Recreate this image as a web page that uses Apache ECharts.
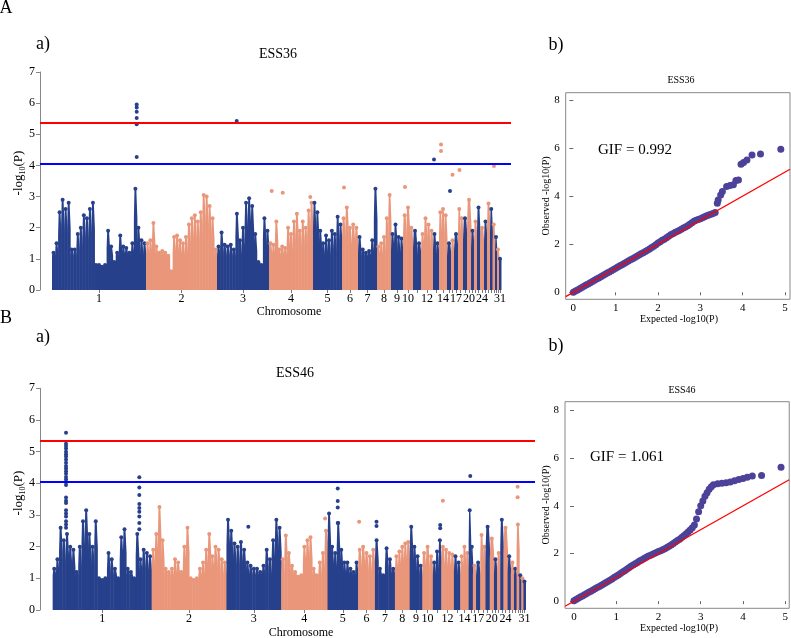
<!DOCTYPE html>
<html><head><meta charset="utf-8">
<script src="https://cdn.jsdelivr.net/npm/echarts@6/dist/echarts.min.js"></script>
<style>html,body{margin:0;padding:0;background:#fff;}#c{width:791px;height:638px;}</style>
</head><body><div id="c"></div>
<script>
// ---------------- data ----------------
const chromLabels = ['1','2','3','4','5','6','7','8','9','10','11','12','13','14','15','16','17','18','19','20','21','22','23','24','25','26','27','28','29','30','31'];
const shownLabels = ['1','2','3','4','5','6','7','8','9','10','12','14','17','20','24','31'];
// relative chromosome widths on the plotted position axis
const chromSizes = [94,71,52,44,29,16,19,14,12,10,8,12,6,8,4,3,4,5,4,4,3,3,3,4,3,3,2.5,2.5,2,2,2];
const genomeStart = 12;

// ESS36: upper envelope of -log10(P) within each chromosome (equal sub-bins)
const envA = [
  [1.2,1.5,2.5,2.9,2.6,2.8,1.3,1.3,1.8,2.0,2.4,2.3,2.6,2.8,0.8,0.8,0.75,0.8,1.9,1.4,0.9,1.2,1.75,1.4,1.35,1.2,1.5,3.25,2.0,1.6,1.5],
  [1.5,1.6,2.15,1.4,1.2,1.25,1.2,1.1,0.6,1.7,1.75,1.6,1.5,1.7,2.1,2.3,2.4,2.2,2.5,3.05,3.0,2.7,2.3,1.3],
  [1.4,1.85,1.45,1.4,1.45,1.3,2.45,1.6,2.0,2.8,2.95,2.7,1.8,0.9,0.8,2.3,1.9],
  [1.5,1.45,2.2,1.3,1.4,1.35,2.0,1.8,2.2,2.45,1.9,2.2,2.0,2.55,2.8],
  [2.8,2.5,1.9,1.5,1.75,1.6,1.9,1.8,2.35,2.1],
  [2.3,2.65,2.0,2.1,2.0],
  [1.7,1.3,1.2,1.25,1.6,3.25],
  [1.4,1.5,1.7,2.3,3.05],
  [1.8,2.1,1.7,1.65],
  [2.4,2.65,2.0],
  [1.9,1.5],
  [1.8,2.3,2.1,1.9],
  [1.8,1.5],
  [2.5,2.6,2.4],
  [1.5],[1.6],[1.8],[2.6,2.3],[2.3],[2.9],[1.9],[2.2],[2.65],[2.0],[2.2],[2.78],[2.6],[2.1],[1.7],[1.3],[1.0]
];
// ESS36: isolated markers [position, -log10(P)]
const hitsA = [
  [96.7,5.96],[96.7,5.86],[96.7,5.72],[96.7,5.52],[96.7,5.32],[96.7,4.27],
  [196.7,5.43],[231.7,3.18],[242.7,3.12],[270.3,2.99],[304,3.29],[365,3.31],
  [394,4.19],[401,4.67],[401,4.46],[410,3.18],[412.5,3.7],[419.5,3.85],[454,3.98]
];

// ESS46
const envB = [
  [1.3,1.6,2.6,2.2,2.4,2.0,1.9,1.2,2.0,2.8,3.15,2.4,2.0,2.8,1.0,0.95,1.0,1.8,1.6,1.3,1.0,2.3,2.55,1.3,1.2,1.0,2.4,1.6,1.9,1.8,1.7],
  [1.9,2.4,3.25,2.2,1.3,1.2,1.3,1.6,1.5,1.2,2.0,2.6,1.0,0.95,1.0,1.3,1.5,1.9,2.4,1.7,2.0,1.9,1.6,1.5],
  [2.85,2.5,2.1,2.0,2.15,1.9,1.5,1.4,1.3,1.3,1.2,1.4,1.9,1.6,2.2,2.85,2.6],
  [1.6,2.35,1.8,1.4,1.2,1.05,1.1,2.0,2.2,2.3,1.3,1.1,1.5,1.8,2.5],
  [3.05,2.0,1.8,2.75,1.9,1.5,1.5,1.3,1.2,1.5],
  [1.9,2.0,1.8,1.7,1.9],
  [2.2,1.3,1.1,1.95,1.6,1.3],
  [1.7,1.85,2.0,2.1,2.15],
  [2.63,2.0,1.7,1.4],
  [1.8,2.0,1.7],
  [1.5,1.85,2.2],
  [2.0,1.9,1.8,1.75],
  [1.7,1.5],
  [1.7,2.0,1.8],
  [3.15,2.0],[1.4],[1.5],[2.37,2.0],[2.63],[2.26],[1.6],[1.8],[2.85],[2.6],[1.7],[1.5],[1.3],[2.7],[1.1],[1.0],[0.9]
];
const hitsB = [
  [24.7,5.6],[24.7,5.25],[24.7,5.18],[24.7,5.1],[24.7,5.0],[24.7,4.92],[24.7,4.85],[24.7,4.75],[24.7,4.65],
  [24.7,4.55],[24.7,4.47],[24.7,4.38],[24.7,4.3],[24.7,4.2],[24.7,4.12],[24.7,4.03],[24.7,3.95],[24.7,3.55],
  [24.7,3.45],[24.7,3.38],[24.7,3.15],[24.7,3.05],[24.7,2.95],[24.7,2.8],[24.7,2.7],[24.7,2.6],
  [94.3,4.19],[94.3,3.87],[94.3,3.63],[94.3,3.35],[94.3,3.22],[94.3,3.1],[94.3,2.95],[94.3,2.75],[94.3,2.55],
  [197.8,2.63],[270.7,2.89],[282.7,3.84],[282.7,3.44],[282.7,3.24],[282.7,2.75],[303,2.79],
  [319.5,2.79],[319.5,2.65],[380,2.68],[380,2.58],[382.5,3.45],[408.5,4.23],[453.5,3.89],[453.5,3.56]
];
const redLineA = 5.36, blueLineA = 4.06;
const redLineB = 5.35, blueLineB = 4.04;

// QQ plots: expected vs observed -log10(P)
const qqExpA = [0,0.05,0.1,0.15,0.2,0.25,0.3,0.35,0.4,0.45,0.5,0.55,0.6,0.65,0.7,0.75,0.8,0.85,0.9,0.95,1.0,1.05,1.1,1.15,1.2,1.25,1.3,1.35,1.4,1.45,1.5,1.55,1.6,1.65,1.7,1.75,1.8,1.85,1.9,1.95,2.0,2.05,2.1,2.15,2.2,2.25,2.3,2.35,2.4,2.45,2.5,2.55,2.6,2.65,2.7,2.75,2.8,2.85,2.9,2.95,3.0,3.05,3.1,3.15,3.2,3.25,3.3,3.35,3.4,3.42,3.48,3.52,3.62,3.7,3.78,3.84,3.9,3.96,4.02,4.1,4.22,4.42,4.9];
const qqObsA = [0,0.05,0.1,0.15,0.2,0.25,0.3,0.35,0.4,0.45,0.5,0.55,0.6,0.65,0.7,0.75,0.8,0.85,0.9,0.95,1.0,1.05,1.1,1.15,1.2,1.25,1.3,1.35,1.4,1.45,1.5,1.55,1.6,1.65,1.7,1.75,1.8,1.86,1.92,1.98,2.05,2.1,2.16,2.21,2.27,2.33,2.39,2.44,2.49,2.53,2.57,2.62,2.67,2.72,2.77,2.83,2.89,2.95,3.0,3.03,3.06,3.1,3.14,3.18,3.21,3.25,3.28,3.32,3.7,3.84,4.05,4.19,4.4,4.44,4.47,4.65,4.67,5.33,5.4,5.5,5.71,5.75,5.95];
const qqExpB = [0,0.05,0.1,0.15,0.2,0.25,0.3,0.35,0.4,0.45,0.5,0.55,0.6,0.65,0.7,0.75,0.8,0.85,0.9,0.95,1.0,1.05,1.1,1.15,1.2,1.25,1.3,1.35,1.4,1.45,1.5,1.55,1.6,1.65,1.7,1.75,1.8,1.85,1.9,1.95,2.0,2.05,2.1,2.15,2.2,2.25,2.3,2.35,2.4,2.45,2.5,2.55,2.6,2.65,2.7,2.75,2.8,2.85,2.9,2.95,3.0,3.05,3.1,3.15,3.2,3.25,3.3,3.4,3.5,3.6,3.7,3.8,3.9,4.0,4.1,4.22,4.44,4.9];
const qqObsB = [0.02,0.07,0.12,0.17,0.22,0.27,0.32,0.37,0.42,0.47,0.52,0.57,0.62,0.67,0.72,0.77,0.82,0.88,0.93,0.99,1.04,1.1,1.16,1.22,1.28,1.34,1.4,1.46,1.52,1.57,1.62,1.68,1.73,1.78,1.83,1.88,1.92,1.96,2.0,2.04,2.08,2.12,2.16,2.2,2.25,2.3,2.36,2.42,2.48,2.54,2.6,2.67,2.74,2.82,2.9,2.99,3.08,3.2,3.45,3.75,4.0,4.2,4.4,4.55,4.7,4.8,4.88,4.93,4.95,4.97,5.0,5.05,5.1,5.15,5.2,5.25,5.27,5.62];
const gifA = 'GIF = 0.992', gifB = 'GIF = 1.061';

// ---------------- build ----------------
const NAVY = '#27408B', SALMON = '#E9967A', QQCOL = '#4C4299';
const SERIF = '"Liberation Serif","Times New Roman",serif';
const chromStarts = [];
(function(){ let a = genomeStart; chromSizes.forEach(s => { chromStarts.push(a); a += s; }); })();
const chromCenters = chromSizes.map((s, i) => chromStarts[i] + s / 2);
function chromOf(x){ for (let i = chromSizes.length - 1; i >= 0; i--) if (x >= chromStarts[i]) return i; return 0; }
function buildBins(env){
  const out = [];
  chromSizes.forEach((size, ci) => {
    const vals = env[ci], n = vals.length;
    vals.forEach((h, i) => out.push([chromStarts[ci] + size * i / n, chromStarts[ci] + size * (i + 1) / n, h, ci]));
  });
  return out;
}
const colorOf = ci => (ci % 2 === 0 ? NAVY : SALMON);
// each bin: solid base up to a shoulder, then a tapering spike ending in a dot
function renderBin(params, api){
  const x0 = api.value(0), x1 = api.value(1), h = api.value(2), ci = api.value(3);
  const s = Math.min(h, Math.max(1.1, h * 0.7));
  const p0 = api.coord([x0, 0]), p1 = api.coord([x1, h]), ps = api.coord([x0, s]);
  const w = p1[0] - p0[0], xc = (p0[0] + p1[0]) / 2;
  const col = colorOf(ci);
  const pts = [[p0[0], p0[1]], [p0[0], ps[1]], [xc - w * 0.3, p1[1]], [xc + w * 0.3, p1[1]], [p1[0] + 0.5, ps[1]], [p1[0] + 0.5, p0[1]]];
  return {type:'group', children:[
    {type:'polygon', shape:{points:pts}, style:{fill:col}},
    {type:'circle', shape:{cx:xc, cy:p1[1], r:2}, style:{fill:col}}
  ]};
}
const labelCenters = shownLabels.map(l => chromCenters[chromLabels.indexOf(l)]);
function chromLabelFmt(v){ const i = chromCenters.findIndex(c => Math.abs(c - v) < 1e-6); return i >= 0 ? chromLabels[i] : ''; }

function manhattanX(gi, max){
  return {gridIndex:gi, type:'value', min:0, max:max,
    axisLine:{show:false}, splitLine:{show:false},
    axisTick:{show:true, customValues:chromCenters, length:3, lineStyle:{color:'#777'}},
    axisLabel:{customValues:labelCenters, formatter:chromLabelFmt, fontFamily:SERIF, fontSize:12, color:'#000', margin:3}};
}
function manhattanY(gi){
  return {gridIndex:gi, type:'value', min:0, max:7, interval:1,
    axisLine:{show:true, lineStyle:{color:'#888'}}, splitLine:{show:false},
    axisTick:{show:true, length:4, lineStyle:{color:'#888'}},
    axisLabel:{fontFamily:SERIF, fontSize:12, color:'#000', margin:5}};
}
function qqX(gi, min, max){
  return {gridIndex:gi, type:'value', min:min, max:max, axisLine:{show:false}, splitLine:{show:false},
    axisTick:{show:true, customValues:[0,1,2,3,4,5], length:3, lineStyle:{color:'#666'}},
    axisLabel:{customValues:[0,1,2,3,4,5], fontFamily:SERIF, fontSize:11, color:'#000', margin:3}};
}
function qqY(gi, min, max){
  return {gridIndex:gi, type:'value', min:min, max:max, axisLine:{show:false}, splitLine:{show:false},
    axisTick:{show:true, customValues:[0,2,4,6,8], length:4, lineStyle:{color:'#666'}},
    axisLabel:{customValues:[0,2,4,6,8], fontFamily:SERIF, fontSize:11, color:'#000', margin:6}};
}
function hitSeries(hits, xi, red, blue){
  return {type:'scatter', xAxisIndex:xi, yAxisIndex:xi, symbolSize:4, z:3,
    data:hits.map(h => [h[0], h[1], chromOf(h[0])]),
    itemStyle:{color:p => colorOf(p.data[2]), opacity:1},
    markLine:{silent:true, symbol:'none', label:{show:false},
      data:[{yAxis:red, lineStyle:{color:'#ff0000', width:2, type:'solid'}},
            {yAxis:blue, lineStyle:{color:'#0000ff', width:2, type:'solid'}}]}};
}
function qqPts(exp, obs){ return exp.map((e, i) => [e, obs[i]]); }

function txt(x, y, text, size, opts){
  return Object.assign({type:'text', x:x, y:y, silent:true,
    style:{text:text, fontFamily:SERIF, fontSize:size, fill:'#000', align:'center', verticalAlign:'middle'}}, opts || {});
}
const ylab = (x, y) => ({type:'text', x:x, y:y, rotation:Math.PI/2, silent:true,
  style:{text:'-log{s|10}(P)', fontFamily:SERIF, fontSize:13, lineHeight:15, fill:'#000', align:'center', verticalAlign:'middle',
    rich:{s:{fontFamily:SERIF, fontSize:8, lineHeight:15, verticalAlign:'bottom', fill:'#000'}}}});

const option = {
  animation:false, backgroundColor:'#fff',
  grid:[
    {left:40, top:72, width:471, height:218},
    {left:40, top:388.3, width:495, height:221.7},
    {left:565.7, top:92.7, width:224.3, height:206.6, show:true, borderColor:'#888', borderWidth:1, backgroundColor:'transparent'},
    {left:565, top:401.7, width:225, height:206.6, show:true, borderColor:'#888', borderWidth:1, backgroundColor:'transparent'}
  ],
  xAxis:[manhattanX(0, 471), manhattanX(1, 470), qqX(2, -0.18, 5.117), qqX(3, -0.212, 5.094)],
  yAxis:[manhattanY(0), manhattanY(1), qqY(2, -0.29, 8.3), qqY(3, -0.3, 8.37)],
  series:[
    {type:'custom', xAxisIndex:0, yAxisIndex:0, renderItem:renderBin, encode:{x:[0,1], y:2}, data:buildBins(envA), z:2},
    hitSeries(hitsA, 0, redLineA, blueLineA),
    {type:'custom', xAxisIndex:1, yAxisIndex:1, renderItem:renderBin, encode:{x:[0,1], y:2}, data:buildBins(envB), z:2},
    hitSeries(hitsB, 1, redLineB, blueLineB),
    {type:'scatter', xAxisIndex:2, yAxisIndex:2, symbolSize:7, itemStyle:{color:QQCOL, opacity:1}, data:qqPts(qqExpA, qqObsA), z:2},
    {type:'line', xAxisIndex:2, yAxisIndex:2, symbol:'none', clip:true, lineStyle:{color:'#ff0000', width:1.3}, data:[[-0.18,-0.18],[5.117,5.117]], z:4},
    {type:'scatter', xAxisIndex:3, yAxisIndex:3, symbolSize:7, itemStyle:{color:QQCOL, opacity:1}, data:qqPts(qqExpB, qqObsB), z:2},
    {type:'line', xAxisIndex:3, yAxisIndex:3, symbol:'none', clip:true, lineStyle:{color:'#ff0000', width:1.3}, data:[[-0.212,-0.212],[5.094,5.094]], z:4}
  ],
  graphic:[
    txt(6, 8, 'A', 18),
    txt(6, 318, 'B', 18),
    txt(43, 44, 'a)', 18),
    txt(43, 337, 'a)', 18),
    txt(556, 45, 'b)', 18),
    txt(556, 346, 'b)', 18),
    txt(278, 54, 'ESS36', 14),
    txt(295, 373, 'ESS46', 14),
    txt(681, 80, 'ESS36', 10),
    txt(682, 390, 'ESS46', 10),
    txt(289, 312, 'Chromosome', 12),
    txt(301, 633, 'Chromosome', 12),
    ylab(19, 173), ylab(19, 493),
    txt(546, 196, 'Observed -log10(P)', 10, {rotation:Math.PI/2}),
    txt(546, 505, 'Observed -log10(P)', 10, {rotation:Math.PI/2}),
    txt(679, 319, 'Expected -log10(P)', 10),
    txt(679, 628, 'Expected -log10(P)', 10),
    {type:'text', x:598, y:150, silent:true, style:{text:gifA, fontFamily:SERIF, fontSize:15, fill:'#000', align:'left', verticalAlign:'middle'}},
    {type:'text', x:590, y:457, silent:true, style:{text:gifB, fontFamily:SERIF, fontSize:15, fill:'#000', align:'left', verticalAlign:'middle'}}
  ]
};
const chart = echarts.init(document.getElementById('c'));
chart.setOption(option);
</script>
</body></html>
